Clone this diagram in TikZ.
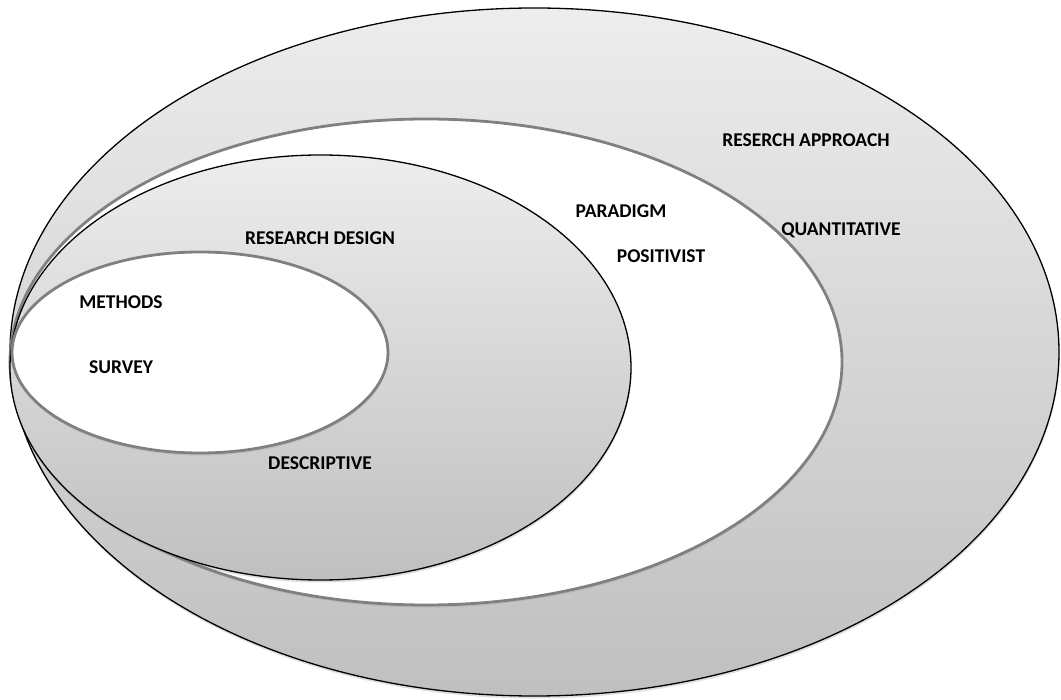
\documentclass[tikz,border=0pt]{standalone}
\usepackage{fontspec}
\setmainfont{Carlito}
\usetikzlibrary{shadows}

\begin{document}
\begin{tikzpicture}[x=1pt,y=-1pt,
  grayring/.style={draw=black,line width=1.3pt,top color=black!7,bottom color=black!25,
    drop shadow={shadow xshift=0.5pt,shadow yshift=-2.5pt,opacity=0.25}},
  whitering/.style={draw=black!50,line width=2.8pt,fill=white,
    drop shadow={shadow xshift=0.5pt,shadow yshift=-2.5pt,opacity=0.2}},
  lbl/.style={font=\fontsize{19.5}{23}\selectfont\bfseries,inner sep=0pt}]
\useasboundingbox[fill=white] (0,0) rectangle (1061,700);
\path[grayring] (534.5,352) ellipse [x radius=524.5,y radius=344];
\path[whitering] (426,362) ellipse [x radius=416,y radius=243];
\path[grayring] (320.5,367.5) ellipse [x radius=310.5,y radius=212.5];
\path[whitering] (200,352.5) ellipse [x radius=188,y radius=100.5];
\node[lbl] (n1) at (806,140) {RESERCH APPROACH};
\node[lbl] (n2) at (841,230) {QUANTITATIVE};
\node[lbl] (n3) at (621,211) {PARADIGM};
\node[lbl] (n4) at (661,256) {POSITIVIST};
\node[lbl] (n5) at (320,238) {RESEARCH DESIGN};
\node[lbl] (n6) at (320,463) {DESCRIPTIVE};
\node[lbl] (n7) at (121,302) {METHODS};
\node[lbl] (n8) at (121,367) {SURVEY};
\end{tikzpicture}
\end{document}
